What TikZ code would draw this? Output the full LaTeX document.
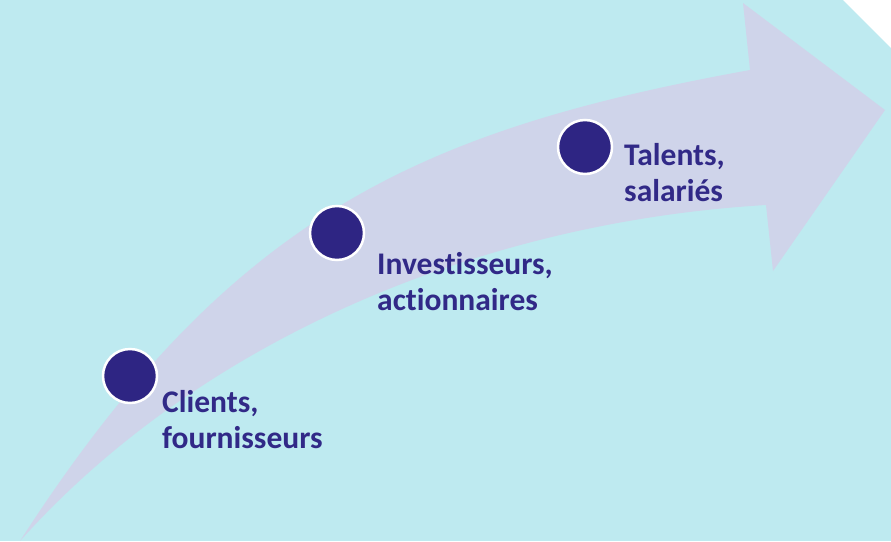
\documentclass[tikz,border=0pt]{standalone}
\usepackage{fontspec}
\setmainfont{Carlito}[Ligatures=NoCommon]
\definecolor{bgcyan}{RGB}{190,234,240}
\definecolor{lav}{RGB}{207,212,234}
\definecolor{dotpurple}{RGB}{46,37,131}
\definecolor{txtpurple}{RGB}{49,41,135}
\begin{document}
\begin{tikzpicture}[x=1pt,y=-1pt,
  dot/.style={circle,fill=dotpurple,draw=white,line width=2.5pt,minimum size=54pt,inner sep=0pt},
  lbl/.style={anchor=base west,align=left,inner sep=0pt,text=txtpurple,font=\fontsize{31.5}{36}\selectfont\bfseries}]
\useasboundingbox (0,0) rectangle (891,541);
\fill[bgcyan] (0,0) rectangle (891,541);
\fill[white] (843,0) -- (891,0) -- (891,48) -- cycle;
% curved arrow
\fill[lav] (20,541) .. controls (230,215) and (420,130) .. (750,70)
  -- (743,3) -- (885,110) -- (773,271) -- (766,205)
  .. controls (480,222) and (200,340) .. (20,541) -- cycle;
% dots
\node[dot] (d1) at (130,376) {};
\node[dot] (d2) at (337,233) {};
\node[dot] (d3) at (585,147) {};
% labels (anchor at baseline of last line)
\node[lbl] (t1) at (162,448) {Clients,\\fournisseurs};
\node[lbl] (t2) at (377,310) {Investisseurs,\\actionnaires};
\node[lbl] (t3) at (624,201) {Talents,\\salariés};
\end{tikzpicture}
\end{document}
